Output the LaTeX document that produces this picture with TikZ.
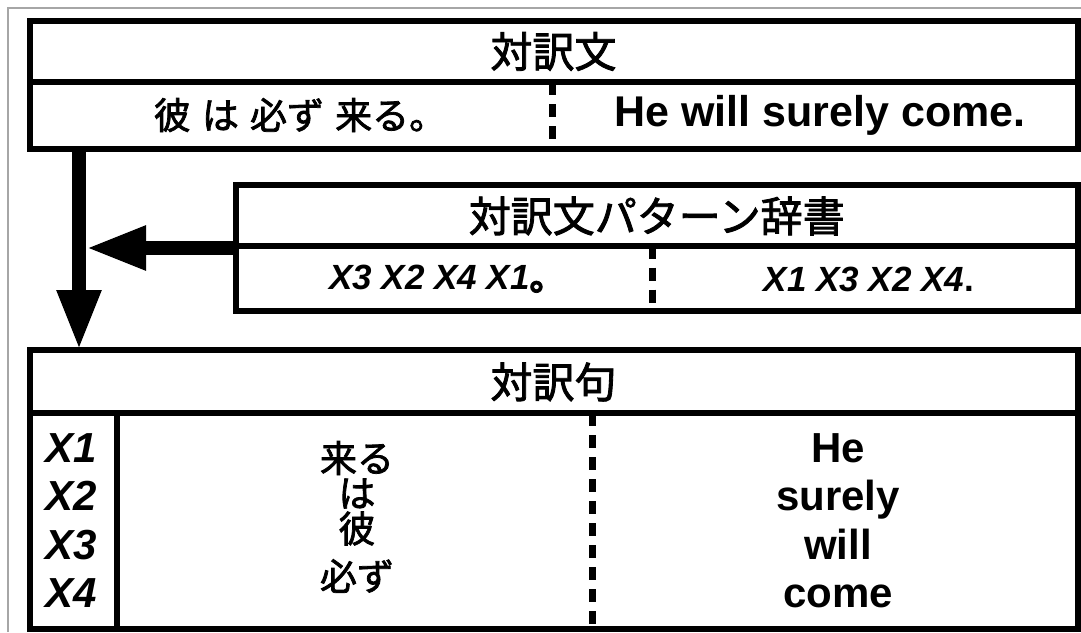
\documentclass[tikz,border=0pt]{standalone}
\usepackage{fontspec}
\setmainfont{Liberation Sans}
\newfontfamily\jp[FakeBold=2]{Noto Sans CJK JP}
\usetikzlibrary{arrows.meta}
\begin{document}
\begin{tikzpicture}[x=1pt,y=-1pt,
  cell/.style={draw, line width=6pt, inner sep=0pt, outer sep=0pt, anchor=center},
  divider/.style={line width=7pt, dash pattern=on 13pt off 9pt},
  jpt/.style={font=\jp\fontsize{#1}{#1}\selectfont, inner sep=0pt},
  ent/.style={font=\fontsize{#1}{#1}\selectfont\bfseries, inner sep=0pt},
  eni/.style={font=\fontsize{#1}{#1}\selectfont\bfseries\itshape, inner sep=0pt},
  bigarrow/.style={line width=14pt, -{Triangle[length=60pt,width=41pt]}}
]
\useasboundingbox (0,0) rectangle (1081,632);
\draw[gray!70, line width=1.5pt] (8,632) -- (8,8) -- (1081,8);

% box 1
\node[cell, minimum width=1048pt, minimum height=61pt] (t1) at (553.5,51.5) {};
\node[cell, minimum width=1048pt, minimum height=66.5pt] (r1) at (553.5,115.25) {};
\node[jpt=42] (t1txt) at (553.5,51.5) {対訳文};
\node[jpt=37] (r1jp) at (300,115) {彼\hspace{0.3em}は\hspace{0.3em}必ず\hspace{0.3em}来る。};
\node[ent=43] (r1en) at (820,115) {He will surely come.};
\coordinate (d1) at (552,82);
\draw[divider] (d1) -- (d1 |- r1.south);

% box 2
\node[cell, minimum width=841.5pt, minimum height=61pt] (t2) at (656.75,215) {};
\node[cell, minimum width=841.5pt, minimum height=65.5pt] (r2) at (656.75,278.25) {};
\node[jpt=42] (t2txt) at (656.75,216) {対訳文パターン辞書};
\node[eni=35] (r2jp) at (447,279) {X3 X2 X4 X1{\upshape\jp 。}};
\node[eni=35] (r2en) at (869,279) {X1 X3 X2 X4{\upshape .}};
\coordinate (d2) at (652,245.5);
\draw[divider] (d2) -- (d2 |- r2.south);

% box 3
\node[cell, minimum width=1048pt, minimum height=63pt] (t3) at (553.5,381.5) {};
\node[cell, minimum width=87.5pt, minimum height=216pt] (c3a) at (73.25,521) {};
\node[cell, minimum width=960.5pt, minimum height=216pt] (c3b) at (597.25,521) {};
\node[jpt=42] (t3txt) at (553.5,382) {対訳句};
\coordinate (d3) at (592,413);
\draw[divider] (d3) -- (d3 |- c3b.south);

\node[eni=42, anchor=base] (x1) at (71,462) {X1};
\node[eni=42, anchor=base] (x2) at (71,510.5) {X2};
\node[eni=42, anchor=base] (x3) at (71,559) {X3};
\node[eni=42, anchor=base] (x4) at (71,607.5) {X4};

\node[jpt=37] (j1) at (357,458) {来る};
\node[jpt=37] (j2) at (357,493.5) {は};
\node[jpt=37] (j3) at (357,528.5) {彼};
\node[jpt=37] (j4) at (357,576) {必ず};

\node[ent=42, anchor=base] (e1) at (838,462) {He};
\node[ent=42, anchor=base] (e2) at (838,510.5) {surely};
\node[ent=42, anchor=base] (e3) at (838,559) {will};
\node[ent=42, anchor=base] (e4) at (838,607.5) {come};

% arrows
\coordinate (vx) at (79,0);
\coordinate (join) at (86,248);
\draw[bigarrow] (vx |- r1.south) -- (vx |- t3.north);
\draw[bigarrow] ([yshift=-2.5pt]r2.north west) -- (join);
\end{tikzpicture}
\end{document}
